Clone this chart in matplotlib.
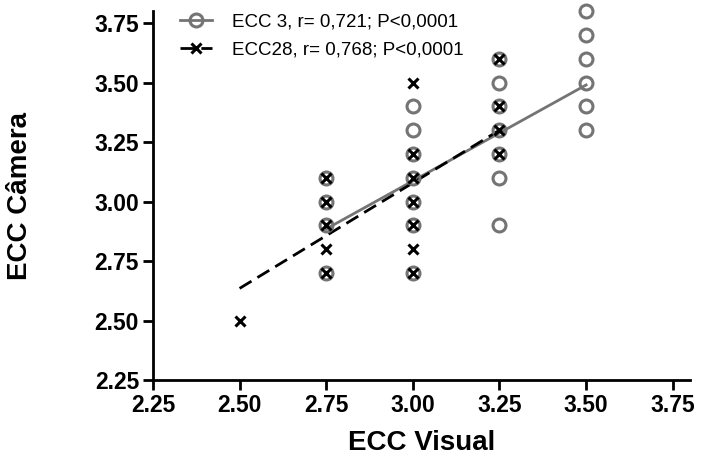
import matplotlib
matplotlib.use("Agg")
import matplotlib.pyplot as plt

plt.rcParams['font.family'] = ['Liberation Sans', 'DejaVu Sans']

# ECC 3 (open grey circles)
ecc3_x = [2.75] * 4 + [3.00] * 7 + [3.25] * 7 + [3.50] * 6
ecc3_y = [2.7, 2.9, 3.0, 3.1,
          2.7, 2.9, 3.0, 3.1, 3.2, 3.3, 3.4,
          2.9, 3.1, 3.2, 3.3, 3.4, 3.5, 3.6,
          3.3, 3.4, 3.5, 3.6, 3.7, 3.8]

# ECC28 (black crosses)
ecc28_x = [2.50] + [2.75] * 5 + [3.00] * 7 + [3.25] * 4
ecc28_y = [2.5,
           2.7, 2.8, 2.9, 3.0, 3.1,
           2.7, 2.8, 2.9, 3.0, 3.1, 3.2, 3.5,
           3.2, 3.3, 3.4, 3.6]

# regression lines (end points)
fit3_x = [2.75, 3.50]
fit3_y = [2.885, 3.49]
fit28_x = [2.50, 3.25]
fit28_y = [2.635, 3.30]

label3 = 'ECC 3, r= 0,721; P<0,0001'
label28 = 'ECC28, r= 0,768; P<0,0001'
ticks = [2.25, 2.50, 2.75, 3.00, 3.25, 3.50, 3.75]

grey = '#747474'
dash = (0, (5, 2.5))

fig = plt.figure(figsize=(7.03, 4.57), dpi=100)
ax = fig.add_axes([0.2176, 0.1685, 0.764, 0.807])

ax.plot(fit3_x, fit3_y, color=grey, lw=2, zorder=2)
ax.plot(fit28_x, fit28_y, color='black', lw=2, ls=dash, zorder=2)

ax.plot(ecc3_x, ecc3_y, 'o', ms=9.3, mfc='none', mec=grey, mew=2.2,
        clip_on=False, zorder=3)
ax.plot(ecc28_x, ecc28_y, 'x', ms=7, mec='black', mew=2.2,
        clip_on=False, zorder=4)

# legend handles
h3, = ax.plot([], [], color=grey, lw=2, marker='o', ms=9.3, mfc='none',
              mec=grey, mew=2.2)
h28, = ax.plot([], [], color='black', lw=2, ls=dash, marker='x',
               ms=7, mew=2.2)
ax.legend([h3, h28], [label3, label28], loc='upper left',
          bbox_to_anchor=(0.05, 0.995), frameon=False, fontsize=13.5,
          borderpad=0, borderaxespad=0,
          handlelength=1.7, handletextpad=1.1, labelspacing=0.6)

ax.set_xlim(2.25, 3.80)
ax.set_ylim(2.25, 3.80)
ax.set_xticks(ticks)
ax.set_yticks(ticks)
ax.set_xticklabels([f'{t:.2f}' for t in ticks])
ax.set_yticklabels([f'{t:.2f}' for t in ticks])
ax.spines['top'].set_visible(False)
ax.spines['right'].set_visible(False)
for s in ('left', 'bottom'):
    ax.spines[s].set_linewidth(2)
ax.tick_params(width=2, length=7, labelsize=16.5, pad=3)
for lab in ax.get_xticklabels() + ax.get_yticklabels():
    lab.set_fontweight('bold')

ax.set_xlabel('ECC Visual', fontsize=20, fontweight='bold')
ax.set_ylabel('ECC Câmera', fontsize=20, fontweight='bold')
ax.xaxis.set_label_coords(0.5, -0.135)
ax.yaxis.set_label_coords(-0.224, 0.5)
ax.xaxis.label.set_va('top')

fig.savefig('out.png', dpi=100)
